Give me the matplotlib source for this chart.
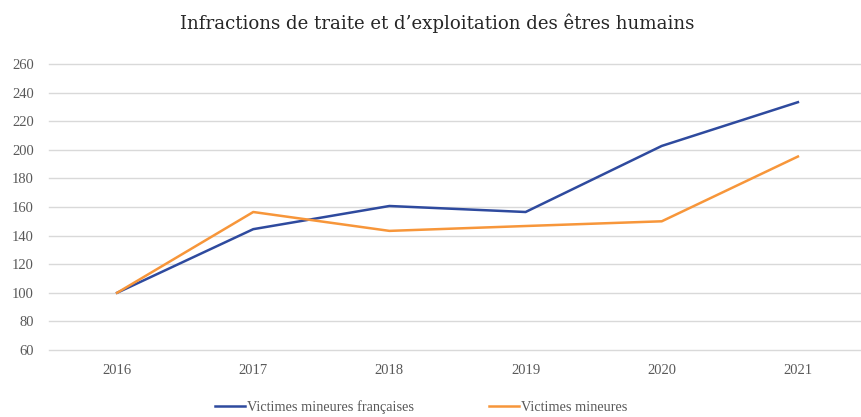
import numpy as np
import matplotlib.pyplot as plt

years = ["2016", "2017", "2018", "2019", "2020", "2021"]
francaises = [100, 144.5, 160.7, 156.5, 202.7, 233.3]
mineures = [100, 156.5, 143.3, 146.7, 150.0, 195.3]

plt.rcParams["font.family"] = ["Liberation Serif", "DejaVu Serif"]

fig = plt.figure(figsize=(8.61, 4.17), dpi=100)
ax = fig.add_axes([49 / 861, 1 - 350 / 417, 817 / 861, 286 / 417])

x = np.arange(len(years))
ax.plot(x, francaises, color="#2E4A9E", linewidth=1.8, label="Victimes mineures françaises")
ax.plot(x, mineures, color="#F7963A", linewidth=1.8, label="Victimes mineures")

ax.set_xlim(-0.5, len(years) - 0.5)
ax.set_ylim(60, 260)
ax.set_yticks(np.arange(60, 261, 20))
ax.set_xticks(x)
ax.set_xticklabels(years)
ax.grid(axis="y", color="#d9d9d9", linewidth=1)
for gl in ax.get_ygridlines():
    gl.set_clip_on(False)
ax.set_axisbelow(True)
for s in ax.spines.values():
    s.set_visible(False)
ax.tick_params(length=0, colors="#595959", labelsize=10.5)
ax.tick_params(axis="y", pad=11)
ax.tick_params(axis="x", pad=10)

fig.text(0.508, 1 - 23 / 417, "Infractions de traite et d\u2019exploitation des êtres humains",
         ha="center", va="center", fontsize=13.1, color="#262626", family="DejaVu Serif")

fig.legend(loc="center", bbox_to_anchor=(0.489, 1 - 407 / 417), ncol=2, frameon=False,
           fontsize=10.3, labelcolor="#595959", handlelength=2.1, handletextpad=0.15,
           columnspacing=5.2)

fig.savefig("out.png", dpi=100)
